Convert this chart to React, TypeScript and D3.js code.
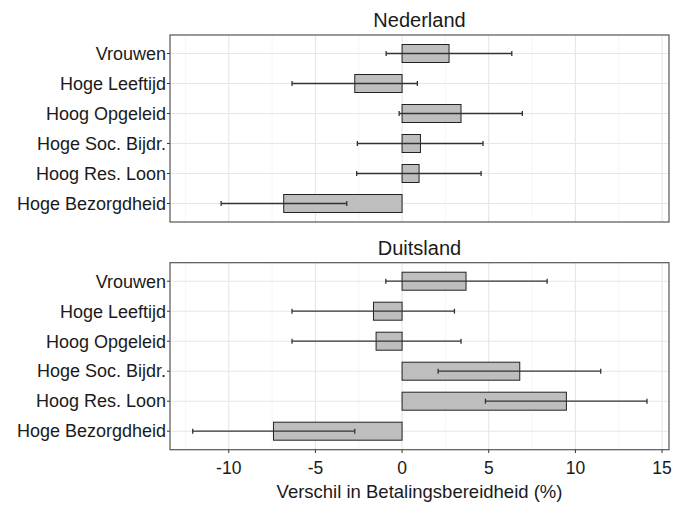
import React from "react";
import * as d3 from "d3";

const categories = [
  "Vrouwen",
  "Hoge Leeftijd",
  "Hoog Opgeleid",
  "Hoge Soc. Bijdr.",
  "Hoog Res. Loon",
  "Hoge Bezorgdheid",
];

const panels = ["Nederland", "Duitsland"];

// estimate, lower, upper per category
const nlValue = [2.71, -2.73, 3.4, 1.06, 0.98, -6.83];
const nlLow = [-0.92, -6.35, -0.17, -2.58, -2.62, -10.44];
const nlHigh = [6.33, 0.88, 6.94, 4.67, 4.56, -3.19];

const deValue = [3.69, -1.65, -1.5, 6.79, 9.48, -7.42];
const deLow = [-0.94, -6.35, -6.35, 2.08, 4.81, -12.08];
const deHigh = [8.37, 3.02, 3.4, 11.46, 14.13, -2.73];

const xTicks = [-10, -5, 0, 5, 10, 15];
const xMinor = [-12.5, -7.5, -2.5, 2.5, 7.5, 12.5];

const W = 675;
const H = 505;
const font = "'Liberation Sans', Arial, sans-serif";

export default function App() {
  const x = d3.scaleLinear().domain([-13.39, 15.4]).range([170, 669]);
  const panelTops = [35, 262.7];
  const panelH = 187;
  const series = [
    { value: nlValue, low: nlLow, high: nlHigh },
    { value: deValue, low: deLow, high: deHigh },
  ];

  return (
    <svg width={W} height={H} style={{ position: "absolute", left: 0, top: 0 }} fontFamily={font}>
      <rect width={W} height={H} fill="white" />
      {panels.map((name, pi) => {
        const top = panelTops[pi];
        const y = d3
          .scalePoint()
          .domain(categories)
          .range([top, top + panelH])
          .padding(0.617);
        const step = y.step();
        const bh = step * 0.6;
        const s = series[pi];
        return (
          <g key={name}>
            <text x={(170 + 669) / 2} y={top - 8} textAnchor="middle" fontSize={20} fill="#1a1a1a">
              {name}
            </text>
            {xMinor.map((t) => (
              <line key={"m" + t} x1={x(t)} x2={x(t)} y1={top} y2={top + panelH} stroke="#f2f2f2" strokeWidth={0.8} />
            ))}
            {xTicks.map((t) => (
              <line key={"g" + t} x1={x(t)} x2={x(t)} y1={top} y2={top + panelH} stroke="#e6e6e6" strokeWidth={1.1} />
            ))}
            {categories.map((c) => (
              <line key={"h" + c} x1={170} x2={669} y1={y(c)!} y2={y(c)!} stroke="#e6e6e6" strokeWidth={1.1} />
            ))}
            {categories.map((c, i) => {
              const cy = y(c)!;
              const v = s.value[i];
              return (
                <g key={c}>
                  <rect
                    x={x(Math.min(0, v))}
                    y={cy - bh / 2}
                    width={Math.abs(x(v) - x(0))}
                    height={bh}
                    fill="#bebebe"
                    stroke="#222"
                    strokeWidth={1}
                  />
                  <line x1={x(s.low[i])} x2={x(s.high[i])} y1={cy} y2={cy} stroke="#333" strokeWidth={1.3} />
                  <line x1={x(s.low[i])} x2={x(s.low[i])} y1={cy - 2.5} y2={cy + 2.5} stroke="#333" strokeWidth={1.3} />
                  <line x1={x(s.high[i])} x2={x(s.high[i])} y1={cy - 2.5} y2={cy + 2.5} stroke="#333" strokeWidth={1.3} />
                  <text x={166} y={cy} dy="0.35em" textAnchor="end" fontSize={18} fill="#1a1a1a">
                    {c}
                  </text>
                  <line x1={167} x2={170} y1={cy} y2={cy} stroke="#333" />
                </g>
              );
            })}
            <rect x={170} y={top} width={499} height={panelH} fill="none" stroke="#555" strokeWidth={1.2} />
          </g>
        );
      })}
      {xTicks.map((t) => (
        <g key={t}>
          <line x1={x(t)} x2={x(t)} y1={449.7} y2={453} stroke="#333" />
          <text x={x(t)} y={474} textAnchor="middle" fontSize={17.5} fill="#1a1a1a">
            {t}
          </text>
        </g>
      ))}
      <text x={(170 + 669) / 2} y={498} textAnchor="middle" fontSize={18.5} fill="#1a1a1a">
        Verschil in Betalingsbereidheid (%)
      </text>
    </svg>
  );
}
